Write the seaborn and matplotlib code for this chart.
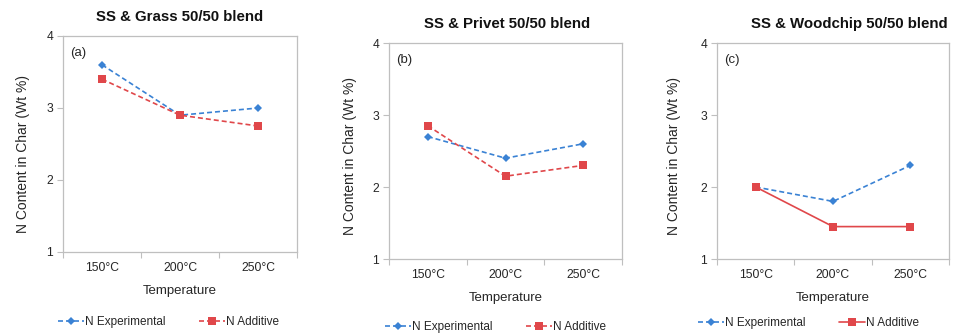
import matplotlib
matplotlib.use("Agg")
import matplotlib.pyplot as plt
import seaborn as sns
import pandas as pd
import numpy as np
from matplotlib.ticker import FixedLocator

sns.set_theme(style="white")
plt.rcParams['font.family'] = ['Liberation Sans', 'DejaVu Sans']

temps = ["150°C", "200°C", "250°C"]
titles = ["SS & Grass 50/50 blend", "SS & Privet 50/50 blend", "SS & Woodchip 50/50 blend"]
panel_labels = ["(a)", "(b)", "(c)"]
exp_a = [3.6, 2.9, 3.0]
add_a = [3.4, 2.9, 2.75]
exp_b = [2.7, 2.4, 2.6]
add_b = [2.85, 2.15, 2.3]
exp_c = [2.0, 1.8, 2.3]
add_c = [2.0, 1.45, 1.45]
series_names = ["N Experimental", "N Additive"]

exp_all = [exp_a, exp_b, exp_c]
add_all = [add_a, add_b, add_c]
add_solid = [False, False, True]

blue = "#3A82D4"
red = "#E0474A"
frame = "#BFBFBF"
txt = "#262626"

fig = plt.figure(figsize=(9.56, 3.36), dpi=100)
positions = [
    (63/956, 84/336, 234/956, 216/336),
    (389/956, 77/336, 233/956, 216/336),
    (717/956, 77/336, 232/956, 216/336),
]
legend_y = [322, 327, 323]
legend_x = [58, 385, 698]
title_y = [17, 24, 24]
title_x = [180, 507, 849]
ylabel_xpos = [-0.171, -0.167, -0.185]
ylabel_ypos = [0.455, 0.477, 0.475]

for i in range(3):
    ax = fig.add_axes(positions[i])
    x = np.arange(len(temps))
    df_e = pd.DataFrame({"x": x, "y": exp_all[i]})
    df_a = pd.DataFrame({"x": x, "y": add_all[i]})
    sns.lineplot(data=df_e, x="x", y="y", ax=ax, color=blue, marker="D",
                 markersize=4.5, markeredgewidth=0, linestyle=(0, (3, 1.8)),
                 linewidth=1.2, label=series_names[0], sort=False)
    sns.lineplot(data=df_a, x="x", y="y", ax=ax, color=red, marker="s",
                 markersize=6, markeredgewidth=0,
                 linestyle="-" if add_solid[i] else (0, (3, 1.8)),
                 linewidth=1.2, label=series_names[1], sort=False)
    ax.set_xlim(-0.5, 2.5)
    ax.set_ylim(1, 4)
    ax.set_xticks(x)
    ax.set_xticklabels(temps, fontsize=8.7, color=txt)
    ax.xaxis.set_minor_locator(FixedLocator([-0.5, 0.5, 1.5, 2.5]))
    ax.tick_params(axis="x", which="major", length=0, pad=7)
    ax.tick_params(axis="x", which="minor", length=4, width=0.8, color=frame, direction="out", bottom=True)
    ax.set_yticks([1, 2, 3, 4])
    ax.set_yticklabels(["1", "2", "3", "4"], fontsize=8.7, color=txt)
    ax.tick_params(axis="y", length=4, width=0.8, color=frame, direction="out", left=True, pad=3)
    for s in ax.spines.values():
        s.set_color(frame)
        s.set_linewidth(0.9)
    ax.set_xlabel("Temperature", fontsize=9.5, color=txt, labelpad=8)
    ax.set_ylabel("N Content in Char (Wt %)", fontsize=10, color=txt, va="center")
    ax.yaxis.set_label_coords(ylabel_xpos[i], ylabel_ypos[i])
    ax.text(0.03, 0.95, panel_labels[i], transform=ax.transAxes, fontsize=9.5,
            va="top", ha="left", color=txt)
    fig.text(title_x[i] / 956, 1 - title_y[i] / 336, titles[i],
             fontsize=10.8, fontweight="bold", ha="center", va="center", color="#111111")
    ax.legend(loc="center left", bbox_to_anchor=(legend_x[i] / 956, 1 - legend_y[i] / 336),
              bbox_transform=fig.transFigure, ncol=2, frameon=False, fontsize=8.5,
              handlelength=2.2, handletextpad=0.1, columnspacing=2.8, borderpad=0,
              borderaxespad=0)

fig.savefig("out.png", dpi=100)
